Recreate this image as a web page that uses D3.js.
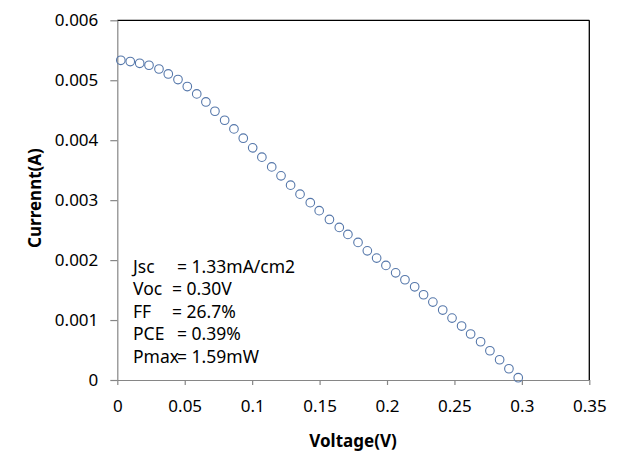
<!DOCTYPE html>
<html>
<head>
<meta charset="utf-8">
<script src="https://cdn.jsdelivr.net/npm/d3@7"></script>
<style>
  html, body { margin: 0; padding: 0; background: #fff; }
  svg { display: block; font-family: "Noto Sans", "Open Sans", sans-serif; }
</style>
</head>
<body>
<svg id="chart" width="621" height="472"></svg>
<script>
// Data
const voltage = [0.0026, 0.0096, 0.0166, 0.0235, 0.0309, 0.0378, 0.0450, 0.0519, 0.0589, 0.0657,
  0.0724, 0.0796, 0.0865, 0.0934, 0.1004, 0.1072, 0.1145, 0.1214, 0.1285, 0.1355,
  0.1431, 0.1497, 0.1573, 0.1646, 0.1710, 0.1785, 0.1854, 0.1923, 0.1992, 0.2064,
  0.2133, 0.2205, 0.2271, 0.2340, 0.2413, 0.2482, 0.2553, 0.2620, 0.2694, 0.2763,
  0.2835, 0.2904, 0.2973];
const current = [0.005333, 0.005312, 0.005283, 0.005250, 0.005188, 0.005105, 0.005012, 0.004895, 0.004772, 0.004638,
  0.004483, 0.004333, 0.004188, 0.004033, 0.003872, 0.003717, 0.003555, 0.003405, 0.003250, 0.003100,
  0.002958, 0.002825, 0.002678, 0.002545, 0.002428, 0.002295, 0.002155, 0.002033, 0.001912, 0.001788,
  0.001672, 0.001555, 0.001422, 0.001300, 0.001167, 0.001033, 0.000900, 0.000767, 0.000638, 0.000488,
  0.000338, 0.000188, 0.000038];
const xTicks = [0, 0.05, 0.1, 0.15, 0.2, 0.25, 0.3, 0.35];
const xTickLabels = ["0", "0.05", "0.1", "0.15", "0.2", "0.25", "0.3", "0.35"];
const yTicks = [0, 0.001, 0.002, 0.003, 0.004, 0.005, 0.006];
const yTickLabels = ["0", "0.001", "0.002", "0.003", "0.004", "0.005", "0.006"];
const infoLabels = ["Jsc", "Voc", "FF", "PCE", "Pmax"];
const infoValues = ["= 1.33mA/cm2", "= 0.30V", "= 26.7%", "= 0.39%", "= 1.59mW"];
const xTitle = "Voltage(V)";
const yTitle = "Currennt(A)";

const svg = d3.select("#chart");
const mLeft = 117.3, mRight = 589.3, mTop = 20.3, mBottom = 380;
const x = d3.scaleLinear().domain([0, 0.35]).range([mLeft, mRight]);
const y = d3.scaleLinear().domain([0, 0.006]).range([mBottom, mTop]);

// plot border (top & right black)
svg.append("line").attr("x1", mLeft).attr("x2", mRight).attr("y1", mTop).attr("y2", mTop)
  .attr("stroke", "#000").attr("stroke-width", 1.3);
svg.append("line").attr("x1", mRight).attr("x2", mRight).attr("y1", mTop).attr("y2", mBottom)
  .attr("stroke", "#000").attr("stroke-width", 1.3);

const axisColor = "#868686";
const xAxis = svg.append("g").attr("transform", `translate(0,${mBottom})`)
  .call(d3.axisBottom(x).tickValues(xTicks).tickFormat((d, i) => xTickLabels[i])
    .tickSizeOuter(0).tickSizeInner(5).tickPadding(15));
const yAxis = svg.append("g").attr("transform", `translate(${mLeft},0)`)
  .call(d3.axisLeft(y).tickValues(yTicks).tickFormat((d, i) => yTickLabels[i])
    .tickSizeOuter(0).tickSizeInner(7).tickPadding(12));
[xAxis, yAxis].forEach(g => {
  g.selectAll("path, line").attr("stroke", axisColor).attr("stroke-width", 1.2);
  g.selectAll("text").attr("fill", "#000").style("font-size", "17px")
    .style("font-family", "'Noto Sans', 'Open Sans', sans-serif");
});

// data points
svg.append("g").selectAll("circle").data(voltage).join("circle")
  .attr("cx", d => x(d)).attr("cy", (d, i) => y(current[i])).attr("r", 4.3)
  .attr("fill", "none").attr("stroke", "#5577aa").attr("stroke-width", 1.1);

// axis titles
svg.append("text").attr("x", 353).attr("y", 447).attr("text-anchor", "middle")
  .style("font-size", "17px").style("font-weight", "bold").text(xTitle);
svg.append("text").attr("transform", "translate(41,198) rotate(-90)").attr("text-anchor", "middle")
  .style("font-size", "17px").style("font-weight", "bold").text(yTitle);

// info text box
const valueX = [177, 172, 172, 177, 177];
const info = svg.append("g").style("font-size", "17.5px");
infoLabels.forEach((lab, i) => {
  const t = info.append("text").attr("y", 273 + i * 22.4);
  t.append("tspan").attr("x", 133).text(lab);
  t.append("tspan").attr("x", valueX[i]).text(infoValues[i]);
});
</script>
</body>
</html>
